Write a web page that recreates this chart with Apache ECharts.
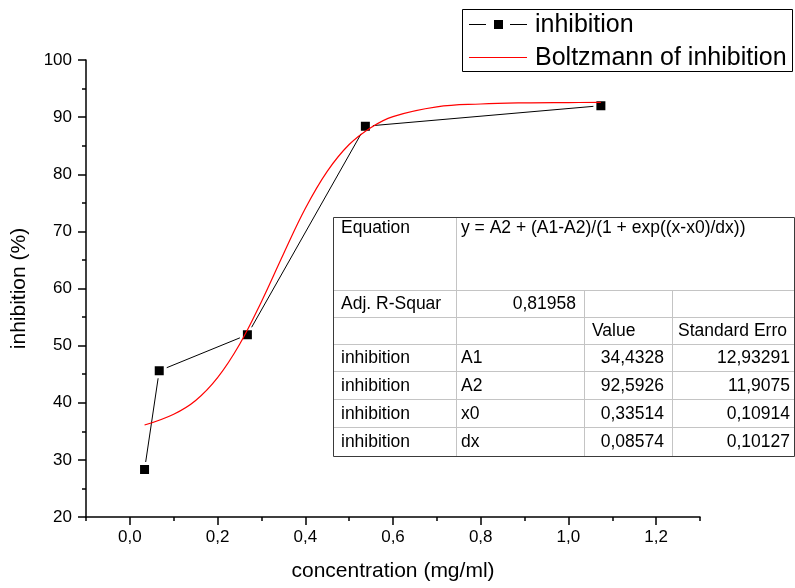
<!DOCTYPE html>
<html>
<head>
<meta charset="utf-8">
<script src="https://cdn.jsdelivr.net/npm/echarts@6/dist/echarts.min.js"></script>
<style>
html,body{margin:0;padding:0;background:#fff;}
#chart{width:795px;height:588px;}
</style>
</head>
<body>
<div id="chart"></div>
<script>
// ---- data ----
const concentration = [0.0335, 0.067, 0.268, 0.537, 1.074];
const inhibition = [28.3, 45.6, 51.9, 88.4, 92.0];

// Boltzmann fit curve
const fitX = [0.0335, 0.1, 0.15, 0.2, 0.25, 0.3, 0.35, 0.4, 0.45, 0.5, 0.55, 0.6, 0.7, 0.8, 0.9, 1.0, 1.074];
const fitY = [36.1, 38.0, 40.4, 44.4, 50.2, 57.7, 66.0, 74.0, 80.5, 85.2, 88.2, 90.1, 91.8, 92.3, 92.5, 92.55, 92.57];

const xMajorTicks = [0, 0.2, 0.4, 0.6, 0.8, 1.0, 1.2];
const xMinorTicks = [-0.1, 0.1, 0.3, 0.5, 0.7, 0.9, 1.1, 1.3];
const yTicks = [20, 30, 40, 50, 60, 70, 80, 90, 100];

const legendNames = ['inhibition', 'Boltzmann of inhibition'];
const xTitle = 'concentration (mg/ml)';
const yTitle = 'inhibition (%)';

// fit-result table
const tableEquationLabel = 'Equation';
const tableEquation = 'y = A2 + (A1-A2)/(1 + exp((x-x0)/dx))';
const tableR2Label = 'Adj. R-Squar';
const tableR2 = '0,81958';
const tableHeader = ['', '', 'Value', 'Standard Erro'];
const tableSeries = ['inhibition', 'inhibition', 'inhibition', 'inhibition'];
const tableParams = ['A1', 'A2', 'x0', 'dx'];
const tableValues = ['34,4328', '92,5926', '0,33514', '0,08574'];
const tableErrors = ['12,93291', '11,9075', '0,10914', '0,10127'];

// ---- chart ----
const FONT = '"Liberation Sans", Arial, sans-serif';
const fmt = v => (Math.round(v * 10) / 10).toFixed(1).replace('.', ',');

const chart = echarts.init(document.getElementById('chart'), null, {renderer: 'canvas'});

// table layout
const T = {cols: [333, 456, 584, 672, 794], rows: [217, 290, 317, 344, 371, 399, 427, 456]};
const tFont = 'normal 17.5px ' + FONT;
const g = [];
const gray = '#c4c4c4';
g.push({type: 'rect', shape: {x: T.cols[0], y: T.rows[0], width: T.cols[4] - T.cols[0], height: T.rows[7] - T.rows[0]}, style: {fill: '#fff'}, z: 9});
for (let r = 1; r < T.rows.length - 1; r++) {
  g.push({type: 'line', shape: {x1: T.cols[0], y1: T.rows[r] + 0.5, x2: T.cols[4], y2: T.rows[r] + 0.5}, style: {stroke: gray, lineWidth: 1}, z: 10});
}
g.push({type: 'line', shape: {x1: T.cols[1] + 0.5, y1: T.rows[0], x2: T.cols[1] + 0.5, y2: T.rows[7]}, style: {stroke: gray, lineWidth: 1}, z: 10});
g.push({type: 'line', shape: {x1: T.cols[2] + 0.5, y1: T.rows[1], x2: T.cols[2] + 0.5, y2: T.rows[7]}, style: {stroke: gray, lineWidth: 1}, z: 10});
g.push({type: 'line', shape: {x1: T.cols[3] + 0.5, y1: T.rows[1], x2: T.cols[3] + 0.5, y2: T.rows[7]}, style: {stroke: gray, lineWidth: 1}, z: 10});
g.push({type: 'rect', shape: {x: T.cols[0] + 0.5, y: T.rows[0] + 0.5, width: T.cols[4] - T.cols[0], height: T.rows[7] - T.rows[0]}, style: {fill: null, stroke: '#3a3a3a', lineWidth: 1}, z: 11});
function cellText(txt, col, row, align, topAlign, pad) {
  const p = pad !== undefined ? pad : (align === 'right' ? 8 : (col === 0 ? 8 : 5));
  const x = align === 'right' ? T.cols[col + 1] - p : T.cols[col] + p;
  const y = topAlign ? T.rows[row] + 2 : (T.rows[row] + T.rows[row + 1]) / 2 + 1;
  g.push({type: 'text', x: x, y: y, style: {text: txt, font: tFont, fill: '#000', align: align, verticalAlign: topAlign ? 'top' : 'middle'}, z: 12});
}
cellText(tableEquationLabel, 0, 0, 'left', true);
cellText(tableEquation, 1, 0, 'left', true);
cellText(tableR2Label, 0, 1, 'left');
cellText(tableR2, 1, 1, 'right');
cellText(tableHeader[2], 2, 2, 'left', false, 8);
cellText(tableHeader[3], 3, 2, 'left', false, 6);
for (let i = 0; i < tableParams.length; i++) {
  cellText(tableSeries[i], 0, 3 + i, 'left');
  cellText(tableParams[i], 1, 3 + i, 'left');
  cellText(tableValues[i], 2, 3 + i, 'right');
  cellText(tableErrors[i], 3, 3 + i, 'right', false, 4);
}

// legend box
const lFont = 'normal 25px ' + FONT;
g.push({type: 'rect', shape: {x: 462.5, y: 9.5, width: 330, height: 62}, style: {fill: '#fff', stroke: '#000', lineWidth: 1}, z: 10});
g.push({type: 'line', shape: {x1: 469, y1: 24.5, x2: 486, y2: 24.5}, style: {stroke: '#000', lineWidth: 1}, z: 11});
g.push({type: 'line', shape: {x1: 510, y1: 24.5, x2: 527, y2: 24.5}, style: {stroke: '#000', lineWidth: 1}, z: 11});
g.push({type: 'rect', shape: {x: 494, y: 20, width: 9, height: 9}, style: {fill: '#000'}, z: 11});
g.push({type: 'text', x: 535, y: 25, style: {text: legendNames[0], font: lFont, fill: '#000', verticalAlign: 'middle'}, z: 11});
g.push({type: 'line', shape: {x1: 469, y1: 57.5, x2: 527, y2: 57.5}, style: {stroke: '#ff0000', lineWidth: 1}, z: 11});
g.push({type: 'text', x: 535, y: 58, style: {text: legendNames[1], font: lFont, fill: '#000', verticalAlign: 'middle'}, z: 11});

const option = {
  animation: false,
  backgroundColor: '#fff',
  grid: {left: 86, right: 95, top: 60, bottom: 71, containLabel: false},
  xAxis: [{
    type: 'value', min: -0.1, max: 1.3,
    name: xTitle, nameLocation: 'middle', nameGap: 44,
    nameTextStyle: {fontFamily: FONT, fontSize: 21, color: '#000'},
    axisLine: {show: true, onZero: false, lineStyle: {color: '#000', width: 1.5}},
    axisTick: {show: true, inside: false, length: 8, lineStyle: {color: '#000', width: 1.5}, customValues: xMajorTicks},
    axisLabel: {show: true, margin: 12, fontFamily: FONT, fontSize: 17, color: '#000', customValues: xMajorTicks, formatter: v => fmt(v)},
    splitLine: {show: false}
  }, {
    type: 'value', min: -0.1, max: 1.3, position: 'bottom',
    axisLine: {show: false, onZero: false},
    axisTick: {show: true, inside: false, length: 4, lineStyle: {color: '#000', width: 1.5}, customValues: xMinorTicks},
    axisLabel: {show: false},
    splitLine: {show: false}
  }],
  yAxis: {
    type: 'value', min: yTicks[0], max: yTicks[yTicks.length - 1], interval: 10,
    name: yTitle, nameLocation: 'middle', nameGap: 56, nameRotate: 90,
    nameTextStyle: {fontFamily: FONT, fontSize: 21, color: '#000'},
    axisLine: {show: true, onZero: false, lineStyle: {color: '#000', width: 1.5}},
    axisTick: {show: true, inside: false, length: 8, lineStyle: {color: '#000', width: 1.5}},
    minorTick: {show: true, splitNumber: 2, length: 4, lineStyle: {color: '#000', width: 1.5}},
    axisLabel: {margin: 14, fontFamily: FONT, fontSize: 17, color: '#000'},
    splitLine: {show: false}
  },
  series: [{
    name: legendNames[0], type: 'line', xAxisIndex: 0,
    data: concentration.map((x, i) => [x, inhibition[i]]),
    symbol: 'rect', symbolSize: 12, showSymbol: true,
    lineStyle: {color: '#000', width: 1},
    itemStyle: {color: '#000', borderColor: '#fff', borderWidth: 3},
    z: 2
  }, {
    name: legendNames[1], type: 'line', xAxisIndex: 0,
    data: fitX.map((x, i) => [x, fitY[i]]),
    smooth: 0.4, symbol: 'none',
    lineStyle: {color: '#ff0000', width: 1.2},
    z: 3
  }],
  graphic: g
};
chart.setOption(option);
</script>
</body>
</html>
